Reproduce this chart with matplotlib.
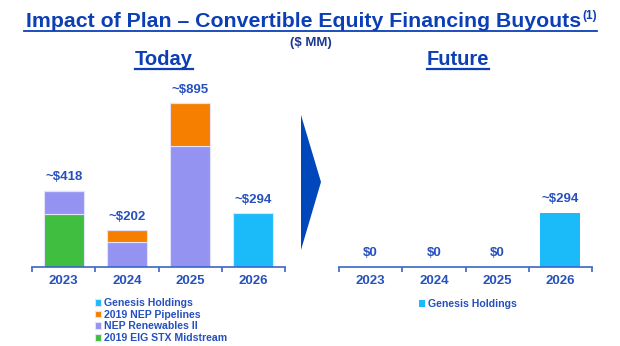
import numpy as np
import matplotlib
matplotlib.use("Agg")
import matplotlib.pyplot as plt
from matplotlib.lines import Line2D
from matplotlib.patches import Polygon

plt.rcParams['font.family'] = ['Liberation Sans', 'DejaVu Sans']
plt.rcParams['font.weight'] = 'bold'

# Data ($ MM)
years = ['2023', '2024', '2025', '2026']
eig_stx = [289, 0, 0, 0]
nep_renewables = [129, 136, 661, 0]
nep_pipelines = [0, 66, 234, 0]
genesis = [0, 0, 0, 294]
today_labels = ['~$418', '~$202', '~$895', '~$294']

future_genesis = [0, 0, 0, 294]
future_labels = ['$0', '$0', '$0', '~$294']

# Colours
c_genesis = '#1BBBFA'
c_pipe = '#F77F00'
c_renew = '#9593F2'
c_eig = '#40BE40'
c_title = '#0C3FB6'
c_text = '#2550BE'
c_axis = '#3A66C8'
edge = '#E4E2FA'

W, H = 620, 346
fig = plt.figure(figsize=(W / 100, H / 100), dpi=100)


def fx(px):
    return px / W


def fy(py):
    return 1 - py / H


ax1 = fig.add_axes([fx(32), fy(267), fx(253), 183 / H])
ax2 = fig.add_axes([fx(339), fy(267), fx(253), 183 / H])

x = np.arange(len(years))
bw = 0.63

b_eig = ax1.bar(x, eig_stx, bw, color=c_eig, edgecolor=edge, linewidth=0.8,
                label='2019 EIG STX Midstream')
bottom = np.array(eig_stx)
b_ren = ax1.bar(x, nep_renewables, bw, bottom=bottom, color=c_renew, edgecolor=edge,
                linewidth=0.8, label='NEP Renewables II')
bottom = bottom + np.array(nep_renewables)
b_pipe = ax1.bar(x, nep_pipelines, bw, bottom=bottom, color=c_pipe, edgecolor=edge,
                 linewidth=0.8, label='2019 NEP Pipelines')
bottom = bottom + np.array(nep_pipelines)
b_gen = ax1.bar(x, genesis, bw, bottom=bottom, color=c_genesis, edgecolor=edge,
                linewidth=0.8, label='Genesis Holdings')
totals = bottom + np.array(genesis)

for xi, t, lab in zip(x, totals, today_labels):
    ax1.annotate(lab, (xi, t), xytext=(0, 9.5), textcoords='offset points',
                 ha='center', va='center', fontsize=9.5, fontweight='bold', color=c_text)

f_gen = ax2.bar(x, future_genesis, bw, color=c_genesis, linewidth=0,
                label='Genesis Holdings')
for xi, t, lab in zip(x, future_genesis, future_labels):
    ax2.annotate(lab, (xi, t), xytext=(0, 10), textcoords='offset points',
                 ha='center', va='center', fontsize=9.5, fontweight='bold', color=c_text)

for ax in (ax1, ax2):
    ax.set_xlim(-0.5, 3.5)
    ax.set_ylim(0, 1000)
    for s in ('top', 'right', 'left'):
        ax.spines[s].set_visible(False)
    ax.spines['bottom'].set_color(c_axis)
    ax.spines['bottom'].set_linewidth(1.2)
    ax.set_yticks([])
    ax.set_xticks(x)
    ax.set_xticklabels(years)
    ax.set_xticks(np.arange(-0.5, 4, 1), minor=True)
    ax.tick_params(axis='x', which='major', length=0, pad=5.5, labelsize=9.5,
                   labelcolor=c_text)
    ax.tick_params(axis='x', which='minor', length=3.5, width=1.2, color=c_axis,
                   direction='out')
    for t in ax.get_xticklabels():
        t.set_fontweight('bold')
    ax.patch.set_alpha(0)

leg_prop = {'weight': 'bold', 'size': 7.6}
ax1.legend(handles=[b_gen, b_pipe, b_ren, b_eig], loc='upper left',
           bbox_to_anchor=(fx(95), fy(298)), bbox_transform=fig.transFigure,
           frameon=False, prop=leg_prop, labelcolor=c_text, handlelength=0.6,
           handleheight=0.6, handletextpad=0.3, labelspacing=0.16, borderpad=0,
           borderaxespad=0)
ax2.legend(handles=[f_gen], loc='upper left',
           bbox_to_anchor=(fx(419), fy(299)), bbox_transform=fig.transFigure,
           frameon=False, prop=leg_prop, labelcolor=c_text, handlelength=0.6,
           handleheight=0.6, handletextpad=0.3, borderpad=0, borderaxespad=0)

# Arrow between the panels
fig.add_artist(Polygon([[fx(301), fy(115)], [fx(321), fy(182)], [fx(301), fy(250)]],
                       closed=True, transform=fig.transFigure, color='#0047BB', lw=0))

# Titles
title = fig.text(fx(26), fy(27), 'Impact of Plan \u2013 Convertible Equity Financing Buyouts',
                 ha='left', va='baseline', fontsize=15.3, fontweight='bold', color=c_title)
today = fig.text(fx(164), fy(65), 'Today', ha='center', va='baseline', fontsize=14.5,
                 fontweight='bold', color=c_title)
future = fig.text(fx(458), fy(65), 'Future', ha='center', va='baseline', fontsize=14.5,
                  fontweight='bold', color=c_title)
fig.text(fx(311), fy(46), '($ MM)', ha='center', va='baseline', fontsize=9.5,
         fontweight='bold', color='#1A3890')

fig.canvas.draw()
r = fig.canvas.get_renderer()
tb = title.get_window_extent(r)
note = fig.text(tb.x1 / W + 0.002, fy(19), '(1)', ha='left', va='baseline', fontsize=8.5,
                fontweight='bold', color=c_title)
fig.canvas.draw()
nb = note.get_window_extent(r)

fig.add_artist(Line2D([tb.x0 / W - 0.003, nb.x1 / W], [fy(30.5), fy(30.5)],
                      transform=fig.transFigure, color=c_title, lw=1.3))
for t in (today, future):
    bb = t.get_window_extent(r)
    fig.add_artist(Line2D([bb.x0 / W, bb.x1 / W], [fy(68.5), fy(68.5)],
                          transform=fig.transFigure, color=c_title, lw=1.6))

fig.savefig('out.png', dpi=100)
